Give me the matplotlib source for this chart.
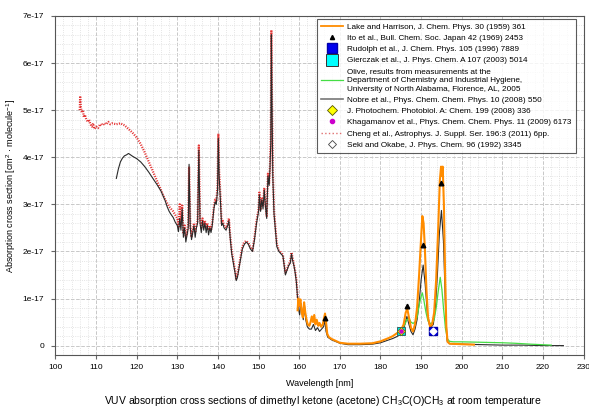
import numpy as np
import matplotlib
matplotlib.use("Agg")
import matplotlib.pyplot as plt
from matplotlib.lines import Line2D
from matplotlib.ticker import MultipleLocator, FuncFormatter

plt.rcParams['font.family'] = ['Liberation Sans', 'DejaVu Sans']
plt.rcParams['mathtext.fontset'] = 'custom'
plt.rcParams['mathtext.rm'] = 'Liberation Sans'
plt.rcParams['mathtext.it'] = 'Liberation Sans:italic'

SCALE = 1e-17

# Nobre et al. (values in 1e-17 cm^2)
nobre_wl = [115.0, 115.5, 116.0, 116.5, 117.0, 117.5, 118.0, 118.5, 119.0, 120.0, 121.0, 122.0,
            123.0, 124.0, 125.0, 126.0, 127.0, 127.5, 128.0, 128.5, 129.0, 129.5, 130.0, 130.3,
            130.6, 130.9, 131.2, 131.5, 131.8, 132.1, 132.4, 132.7, 132.9, 133.2, 133.5, 133.8,
            134.1, 134.4, 134.7, 135.0, 135.3, 135.6, 135.9, 136.2, 136.5, 136.8, 137.1, 137.4,
            137.7, 138.0, 138.3, 138.6, 139.0, 139.3, 139.6, 139.9, 140.1, 140.3, 140.6, 140.9,
            141.2, 141.5, 142.0, 142.4, 142.7, 143.0, 143.4, 143.8, 144.2, 144.5, 144.8, 145.2,
            145.6, 146.0, 146.5, 147.0, 147.5, 148.0, 148.5, 149.0, 149.5, 150.0, 150.2, 150.5,
            150.8, 151.1, 151.4, 151.7, 152.0, 152.3, 152.6, 152.8, 153.0, 153.15, 153.3, 153.5,
            153.8, 154.1, 154.5, 155.0, 155.5, 156.0, 156.3, 156.6, 157.0, 157.4, 157.8, 158.1,
            158.4, 158.7, 159.0, 159.3, 159.6, 159.9, 160.1, 160.4, 160.7, 161.0, 161.3, 161.6,
            162.0, 162.5, 163.0, 163.5, 164.0, 164.5, 165.0, 165.5, 166.0, 166.3, 166.6, 167.0,
            168.0, 170.0, 172.0, 175.0, 178.0, 180.0, 182.0, 183.0, 184.0, 185.0, 185.5, 186.0,
            186.5, 187.0, 187.5, 188.0, 188.5, 189.0, 189.5, 190.0, 190.5, 191.0, 191.5, 192.0,
            192.5, 193.0, 193.5, 194.0, 194.5, 195.0, 195.5, 196.0, 196.4, 197.0, 200.0, 205.0,
            210.0, 215.0, 220.0, 225.0]
nobre_val = [3.55, 3.75, 3.9, 3.98, 4.03, 4.05, 4.08, 4.05, 4.02, 3.97, 3.9, 3.8,
             3.68, 3.55, 3.42, 3.28, 3.08, 2.95, 2.85, 2.78, 2.72, 2.62, 2.55, 2.42,
             2.7, 2.45, 2.9, 2.3, 2.5, 2.2, 2.35, 2.5, 3.85, 2.5, 2.25, 2.4,
             2.55, 2.3, 2.5, 2.6, 4.15, 2.6, 2.4, 2.65, 2.45, 2.6, 2.4, 2.55,
             2.35, 2.5, 2.4, 2.55, 2.9, 3.05, 3.0, 3.3, 4.4, 3.6, 3.1, 2.55,
             2.6, 2.5, 2.45, 2.55, 2.65, 2.3, 1.95, 1.75, 1.55, 1.38, 1.45, 1.65,
             1.85, 2.05, 2.15, 2.2, 2.15, 2.05, 2.0, 2.25, 2.6, 2.85, 3.2, 2.85,
             3.1, 2.9, 3.3, 2.95, 2.7, 3.6, 3.4, 3.75, 4.3, 6.6, 5.2, 3.6,
             2.8, 2.5, 2.1, 2.0, 1.95, 1.9, 1.7, 1.5, 1.6, 1.7, 1.75, 1.95,
             1.8, 1.7, 1.55, 1.35, 1.0, 0.75, 0.65, 0.9, 0.75, 0.55, 0.85, 0.55,
             0.4, 0.35, 0.35, 0.45, 0.32, 0.38, 0.3, 0.35, 0.4, 0.55, 0.3, 0.18,
             0.12, 0.05, 0.02, 0.02, 0.03, 0.06, 0.12, 0.15, 0.19, 0.24, 0.3, 0.45,
             0.62, 0.45, 0.3, 0.23, 0.35, 0.55, 0.9, 1.4, 1.71, 1.3, 0.7, 0.45,
             0.4, 0.45, 0.8, 1.5, 2.4, 2.87, 2.2, 0.8, 0.1, 0.04, 0.03, 0.02,
             0.01, 0.01, 0.0, 0.0]

# Cheng et al.
cheng_wl = [106.0, 106.1, 106.3, 106.5, 106.8, 107.0, 107.3, 107.6, 108.0, 108.3, 108.6, 109.0,
            109.3, 109.6, 110.0, 110.5, 111.0, 111.5, 112.0, 112.5, 113.0, 113.5, 114.0, 115.0,
            116.0, 117.0, 118.0, 119.0, 120.0, 121.0, 122.0, 123.0, 124.0, 125.0, 126.0, 127.0,
            128.0, 129.0, 130.0, 130.3, 130.6, 130.9, 131.2, 131.5, 131.8, 132.1, 132.4, 132.7,
            132.9, 133.2, 133.5, 133.8, 134.1, 134.4, 134.7, 135.0, 135.3, 135.6, 135.9, 136.2,
            136.5, 136.8, 137.1, 137.4, 137.7, 138.0, 138.3, 138.6, 139.0, 139.3, 139.6, 139.9,
            140.1, 140.3, 140.6, 140.9, 141.2, 141.5, 142.0, 142.4, 142.7, 143.0, 143.4, 143.8,
            144.2, 144.5, 144.8, 145.2, 145.6, 146.0, 146.5, 147.0, 147.5, 148.0, 148.5, 149.0,
            149.5, 150.0, 150.2, 150.5, 150.8, 151.1, 151.4, 151.7, 152.0, 152.3, 152.6, 152.8,
            153.0, 153.15, 153.3, 153.5, 153.8, 154.1, 154.5, 155.0, 155.5, 156.0, 156.3, 156.6,
            157.0, 157.4, 157.8, 158.1, 158.4, 158.7, 159.0, 159.3, 159.6, 159.9]
cheng_val = [5.0, 5.3, 5.05, 4.95, 5.0, 4.85, 4.9, 4.8, 4.75, 4.8, 4.7, 4.65,
             4.72, 4.6, 4.65, 4.62, 4.7, 4.68, 4.72, 4.7, 4.75, 4.7, 4.72, 4.7,
             4.72, 4.68, 4.6, 4.52, 4.42, 4.28, 4.1, 3.9, 3.7, 3.5, 3.3, 3.1,
             2.95, 2.85, 2.7, 2.5, 3.0, 2.55, 3.0, 2.4, 2.55, 2.3, 2.4, 2.6,
             3.8, 2.55, 2.3, 2.45, 2.6, 2.4, 2.55, 2.65, 4.25, 2.7, 2.5, 2.7,
             2.55, 2.65, 2.5, 2.6, 2.45, 2.55, 2.45, 2.6, 2.95, 3.1, 3.05, 3.4,
             4.5, 3.7, 3.2, 2.6, 2.65, 2.55, 2.5, 2.6, 2.7, 2.35, 2.0, 1.8,
             1.6, 1.42, 1.5, 1.7, 1.9, 2.1, 2.2, 2.22, 2.18, 2.08, 2.02, 2.3,
             2.65, 2.9, 3.25, 2.9, 3.15, 2.95, 3.35, 3.0, 2.75, 3.65, 3.45, 3.8,
             4.4, 6.7, 5.3, 3.7, 2.85, 2.55, 2.15, 2.02, 1.98, 1.92, 1.72, 1.55,
             1.62, 1.72, 1.8, 1.98, 1.85, 1.72, 1.58, 1.4, 1.05, 0.8]

# Lake and Harrison
lake_wl = [159.6, 159.8, 160.0, 160.3, 160.6, 160.9, 161.2, 161.5, 161.8, 162.1, 162.5, 162.8,
           163.1, 163.4, 163.7, 164.0, 164.3, 164.7, 165.0, 165.4, 165.8, 166.1, 166.35, 166.6,
           166.9, 167.3, 168.0, 169.0, 170.0, 172.0, 175.0, 178.0, 180.0, 182.0, 183.0, 184.0,
           185.0, 185.7, 186.2, 186.6, 187.0, 187.5, 188.0, 188.5, 189.0, 189.5, 190.0, 190.3,
           190.6, 190.9, 191.3, 191.7, 192.2, 192.7, 193.2, 193.7, 194.2, 194.6, 194.9, 195.1,
           195.3, 195.6, 195.9, 196.2, 196.5, 197.0, 200.0, 203.0]
lake_val = [0.75, 1.0, 0.85, 0.98, 0.7, 0.6, 0.92, 0.7, 0.55, 0.45, 0.42, 0.5,
            0.62, 0.5, 0.65, 0.45, 0.55, 0.42, 0.48, 0.4, 0.45, 0.58, 0.68, 0.5,
            0.25, 0.18, 0.14, 0.1, 0.06, 0.04, 0.04, 0.05, 0.09, 0.16, 0.2, 0.26,
            0.32, 0.45, 0.7, 0.78, 0.6, 0.38, 0.3, 0.45, 0.8, 1.5, 2.3, 2.75,
            2.6, 2.1, 1.2, 0.6, 0.4, 0.45, 0.7, 1.4, 2.5, 3.5, 3.8, 3.6,
            3.8, 3.0, 1.5, 0.4, 0.08, 0.04, 0.03, 0.02]

# Olive
olive_wl = [184.3, 185.0, 185.5, 186.0, 186.5, 187.0, 187.5, 188.0, 188.5, 189.0, 189.5, 190.0,
            190.3, 190.7, 191.2, 191.7, 192.2, 192.7, 193.2, 193.7, 194.2, 194.7, 195.1, 195.5,
            196.0, 196.5, 197.0, 198.0, 200.0, 205.0, 210.0, 213.0, 217.0, 222.0]
olive_val = [0.3, 0.33, 0.38, 0.45, 0.55, 0.58, 0.5, 0.47, 0.5, 0.6, 0.85, 1.05,
             1.12, 0.95, 0.7, 0.52, 0.47, 0.48, 0.55, 0.8, 1.15, 1.45, 1.2, 0.8,
             0.35, 0.14, 0.09, 0.08, 0.08, 0.07, 0.06, 0.05, 0.03, 0.01]

# single-point / few-point datasets
ito_wl = [166.3, 186.5, 190.4, 195.0]
ito_val = [0.59, 0.84, 2.14, 3.45]
rudolph_wl, rudolph_val = [192.8], [0.3]
gierczak_wl, gierczak_val = [185.0], [0.3]
jpp_wl, jpp_val = [185.0], [0.3]
khag_wl, khag_val = [185.0], [0.3]
seki_wl, seki_val = [192.8], [0.3]

labels = [
    "Lake and Harrison, J. Chem. Phys. 30 (1959) 361",
    "Ito et al., Bull. Chem. Soc. Japan 42 (1969) 2453",
    "Rudolph et al., J. Chem. Phys. 105 (1996) 7889",
    "Gierczak et al., J. Phys. Chem. A 107 (2003) 5014",
    "Olive, results from measurements at the\nDepartment of Chemistry and Industrial Hygiene,\n"
    "University of North Alabama, Florence, AL, 2005",
    "Nobre et al., Phys. Chem. Chem. Phys. 10 (2008) 550",
    "J. Photochem. Photobiol. A: Chem. 199 (2008) 336",
    "Khagamanov et al., Phys. Chem. Chem. Phys. 11 (2009) 6173",
    "Cheng et al., Astrophys. J. Suppl. Ser. 196:3 (2011) 6pp.",
    "Seki and Okabe, J. Phys. Chem. 96 (1992) 3345",
]

ORANGE = '#FF8C00'
GREEN = '#44DD44'
RED = '#E01010'
DARK = '#2a2a2a'


def sc(v):
    return np.array(v) * SCALE


fig = plt.figure(figsize=(5.89, 4.09), dpi=100)
ax = fig.add_axes([0.094, 0.132, 0.897, 0.829])

ax.plot(cheng_wl, sc(cheng_val), color=RED, lw=1.6, ls=(0, (0.5, 0.6)), alpha=0.85, zorder=2)
ax.plot(nobre_wl, sc(nobre_val), color=DARK, lw=0.8, zorder=3)
ax.plot(olive_wl, sc(olive_val), color=GREEN, lw=0.9, zorder=3)
ax.plot(lake_wl, sc(lake_val), color=ORANGE, lw=1.5, zorder=4)
ax.plot(ito_wl, sc(ito_val), ls='none', marker='^', ms=3.3, color='black', zorder=6)
ax.plot(gierczak_wl, sc(gierczak_val), ls='none', marker='s', ms=6.3, mfc='#00E5E5',
        mec='#336666', mew=0.7, zorder=6)
ax.plot(jpp_wl, sc(jpp_val), ls='none', marker='D', ms=4, mfc='#FFFF00', mec='#666600',
        mew=0.5, zorder=7)
ax.plot(khag_wl, sc(khag_val), ls='none', marker='o', ms=2.3, mfc='#CC00CC', mec='#CC00CC',
        zorder=8)
ax.plot(rudolph_wl, sc(rudolph_val), ls='none', marker='s', ms=6.3, mfc='#0000EE',
        mec='#0000AA', zorder=6)
ax.plot(seki_wl, sc(seki_val), ls='none', marker='D', ms=3.5, mfc='white', mec='white',
        zorder=7)

ax.set_xlim(100, 230)
ax.set_ylim(-0.2e-17, 7e-17)
ax.xaxis.set_major_locator(MultipleLocator(10))
ax.xaxis.set_minor_locator(MultipleLocator(2))
ax.yaxis.set_major_locator(MultipleLocator(1e-17))
ax.yaxis.set_minor_locator(MultipleLocator(0.2e-17))
ax.yaxis.set_major_formatter(FuncFormatter(
    lambda v, p: '0' if abs(v) < 1e-20 else f'{v / SCALE:.0f}e-17'))
ax.grid(which='major', color='#c8c8c8', ls='--', lw=0.7)
ax.grid(which='minor', color='#dcdcdc', ls=':', lw=0.6)
ax.set_axisbelow(True)
ax.tick_params(which='both', labelsize=6, length=3, color='#666666')
ax.tick_params(axis='y', pad=5)
ax.tick_params(which='minor', length=0)
for s in ax.spines.values():
    s.set_color('#555555')
    s.set_linewidth(0.8)

ax.set_xlabel('Wavelength [nm]', fontsize=6.5, labelpad=6)
ax.set_ylabel('Absorption cross section [cm$^2$ · molecule$^{-1}$]', fontsize=6.5)
ax.yaxis.set_label_coords(-0.07, 0.5)
fig.text(0.548, 0.02, 'VUV absorption cross sections of dimethyl ketone (acetone) '
         'CH$_3$C(O)CH$_3$ at room temperature', ha='center', va='center', fontsize=7.5)

handles = [
    Line2D([], [], color=ORANGE, lw=1.3),
    Line2D([], [], ls='none', marker='^', ms=3, color='black'),
    Line2D([], [], ls='none', marker='s', ms=6.5, mfc='#0000EE', mec='#0000AA'),
    Line2D([], [], ls='none', marker='s', ms=8, mfc='#00FFFF', mec='#333333', mew=0.7),
    Line2D([], [], color=GREEN, lw=0.9),
    Line2D([], [], color='#777777', lw=1.2),
    Line2D([], [], ls='none', marker='D', ms=5.5, mfc='#FFFF00', mec='#555500', mew=0.6),
    Line2D([], [], ls='none', marker='o', ms=3, mfc='#CC00CC', mec='#CC00CC'),
    Line2D([], [], color='#E07070', lw=1.0, ls=':'),
    Line2D([], [], ls='none', marker='D', ms=4.5, mfc='white', mec='#444444', mew=0.6),
]
leg = ax.legend(handles, labels, loc='upper right', bbox_to_anchor=(0.989, 0.997),
                fontsize=5.9, frameon=True, fancybox=False, handlelength=2.7,
                labelspacing=0.42, borderpad=0.55, handletextpad=0.5, borderaxespad=0.2)
for t in leg.get_texts():
    t.set_linespacing(1.4)
leg.get_frame().set_edgecolor('#333333')
leg.get_frame().set_linewidth(0.8)

fig.savefig('out.png', dpi=100)
